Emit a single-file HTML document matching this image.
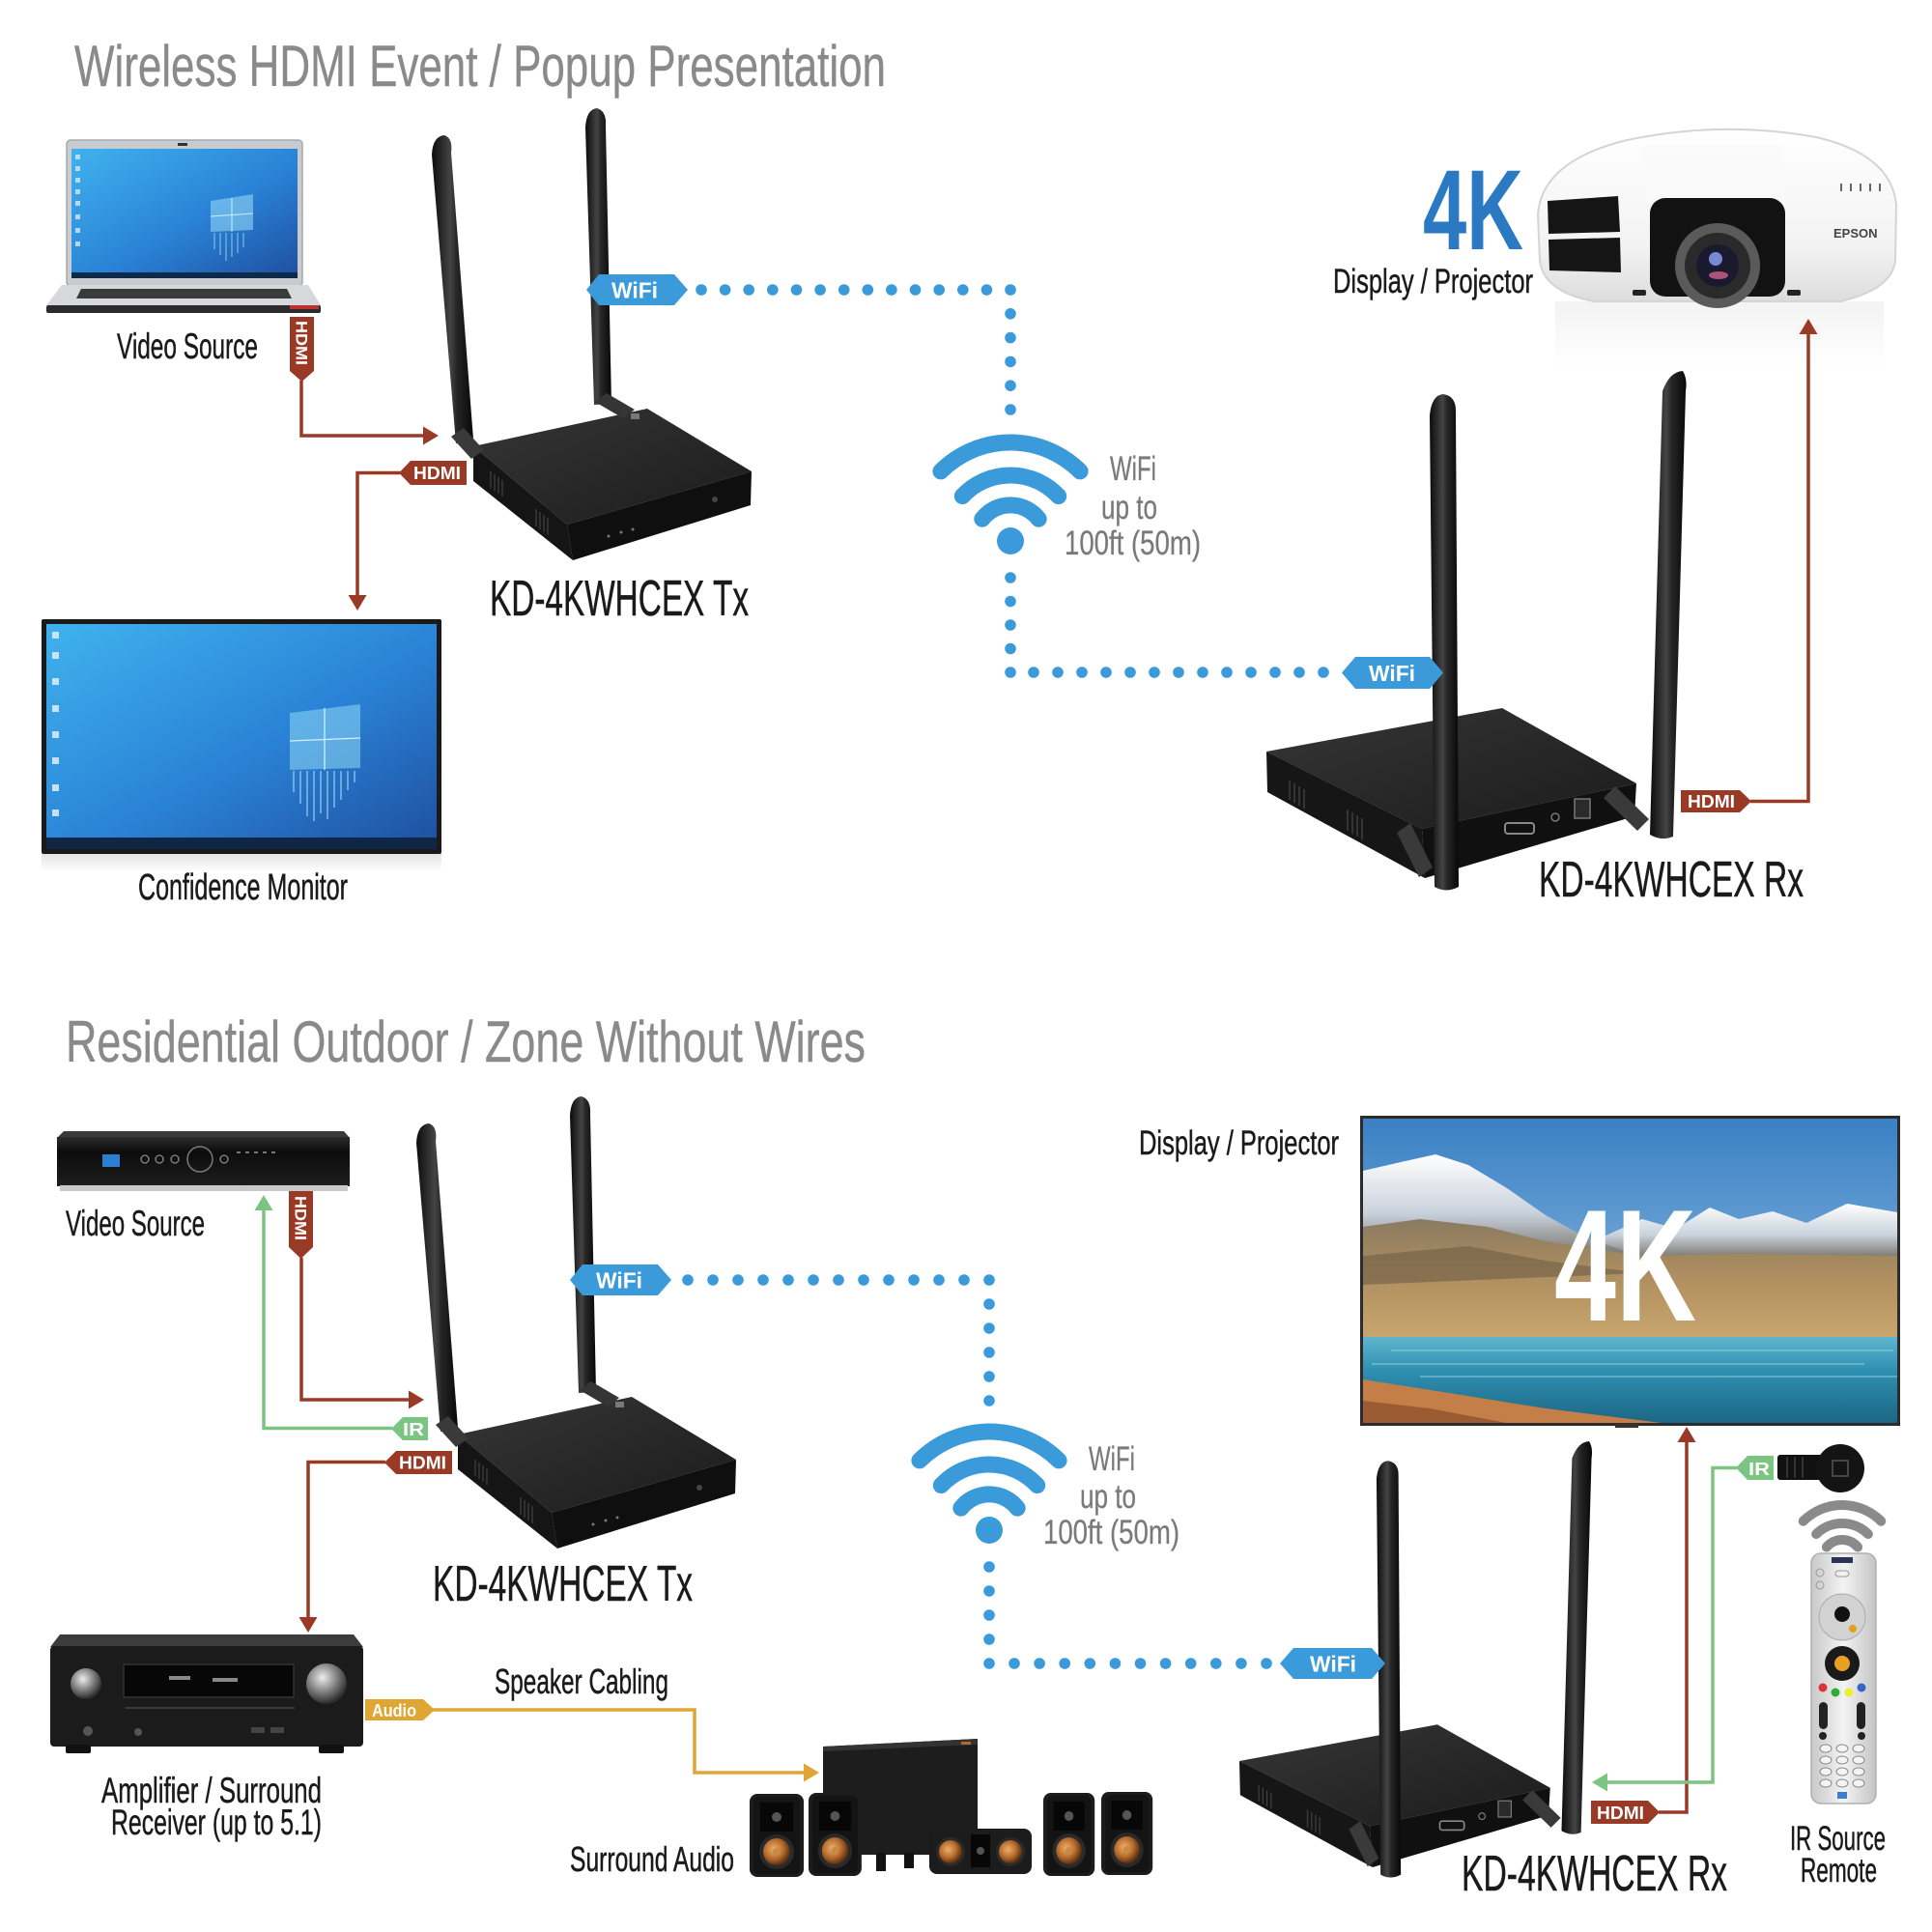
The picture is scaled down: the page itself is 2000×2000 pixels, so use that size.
<!DOCTYPE html>
<html><head><meta charset="utf-8"><style>
html,body{margin:0;padding:0;background:#fff;}
svg{display:block;}
.lbl{font-family:"Liberation Sans Narrow","Liberation Sans",sans-serif;fill:#1a1a1a;stroke:#1a1a1a;stroke-width:0.5;}
.ttl{font-family:"Liberation Sans Narrow","Liberation Sans",sans-serif;fill:#8a8a8a;stroke:#8a8a8a;stroke-width:0.4;}
.gry{font-family:"Liberation Sans Narrow","Liberation Sans",sans-serif;fill:#7a7a7a;stroke:#7a7a7a;stroke-width:0.3;}
.tag{font-family:"Liberation Sans",sans-serif;font-weight:bold;fill:#fff;}
</style></head><body>
<svg width="2000" height="2000" viewBox="0 0 2000 2000" xmlns="http://www.w3.org/2000/svg">
<defs>
<linearGradient id="antG" x1="0" y1="0" x2="1" y2="0"><stop offset="0" stop-color="#0c0c0c"/><stop offset=".45" stop-color="#444"/><stop offset=".6" stop-color="#262626"/><stop offset="1" stop-color="#080808"/></linearGradient>
<linearGradient id="boxTop" x1="0" y1="0" x2="1" y2="1"><stop offset="0" stop-color="#363636"/><stop offset="1" stop-color="#1b1b1b"/></linearGradient>
<linearGradient id="scr" x1="0" y1="0" x2="1" y2="1"><stop offset="0" stop-color="#3fb2ee"/><stop offset=".55" stop-color="#2a82d6"/><stop offset="1" stop-color="#1f4f9f"/></linearGradient>
<radialGradient id="copper" cx=".4" cy=".4" r=".6"><stop offset="0" stop-color="#f0b06a"/><stop offset=".6" stop-color="#b46a2c"/><stop offset="1" stop-color="#5a3010"/></radialGradient>
<radialGradient id="knob" cx=".4" cy=".35" r=".65"><stop offset="0" stop-color="#eee"/><stop offset=".5" stop-color="#8a8a8a"/><stop offset="1" stop-color="#2a2a2a"/></radialGradient>
<linearGradient id="sky" x1="0" y1="0" x2="0" y2="1"><stop offset="0" stop-color="#3a80c4"/><stop offset="1" stop-color="#a9cde9"/></linearGradient>
<linearGradient id="lake" x1="0" y1="0" x2="0" y2="1"><stop offset="0" stop-color="#5fb6cf"/><stop offset=".4" stop-color="#2f8fb0"/><stop offset="1" stop-color="#1c6685"/></linearGradient>
<linearGradient id="land" x1="0" y1="0" x2="0" y2="1"><stop offset="0" stop-color="#8a7a60"/><stop offset=".5" stop-color="#b09060"/><stop offset="1" stop-color="#c9a66e"/></linearGradient>
<linearGradient id="snow" x1="0" y1="0" x2="0" y2="1"><stop offset="0" stop-color="#ffffff"/><stop offset=".55" stop-color="#c9d2dc"/><stop offset="1" stop-color="#6f6a60"/></linearGradient>
<linearGradient id="proj" x1="0" y1="0" x2="0" y2="1"><stop offset="0" stop-color="#ffffff"/><stop offset=".7" stop-color="#f2f2f2"/><stop offset="1" stop-color="#dcdcdc"/></linearGradient>
<linearGradient id="refl" x1="0" y1="0" x2="0" y2="1"><stop offset="0" stop-color="#e4e4e4"/><stop offset="1" stop-color="#ffffff"/></linearGradient>
<linearGradient id="remG" x1="0" y1="0" x2="1" y2="0"><stop offset="0" stop-color="#c8c8c8"/><stop offset=".5" stop-color="#f3f3f3"/><stop offset="1" stop-color="#c4c4c4"/></linearGradient>
<linearGradient id="stb" x1="0" y1="0" x2="0" y2="1"><stop offset="0" stop-color="#2c2c2c"/><stop offset=".3" stop-color="#0c0c0c"/><stop offset="1" stop-color="#1e1e1e"/></linearGradient>

<g id="tx">
  <polygon points="490,462 670,423 778,488 587,543" fill="url(#boxTop)"/>
  <polygon points="490,462 587,543 593,580 490,498" fill="#151515"/>
  <polygon points="587,543 778,488 777,523 593,580" fill="#0f0f0f"/>
  <g stroke="#3a3a3a" stroke-width="1.5">
    <line x1="508" y1="488" x2="508" y2="505"/><line x1="512" y1="491" x2="512" y2="508"/><line x1="516" y1="494" x2="516" y2="511"/><line x1="520" y1="497" x2="520" y2="514"/>
    <line x1="555" y1="527" x2="555" y2="545"/><line x1="559" y1="530" x2="559" y2="548"/><line x1="563" y1="533" x2="563" y2="551"/><line x1="567" y1="536" x2="567" y2="554"/>
  </g>
  <circle cx="630" cy="555" r="1.5" fill="#777"/><circle cx="643" cy="551" r="1.5" fill="#777"/><circle cx="655" cy="548" r="1.5" fill="#777"/>
  <circle cx="740" cy="517" r="3" fill="#444"/>
  <path d="M447,160 Q448,141 460,140 Q469,143 467,158 L490,455 L472,459 Z" fill="url(#antG)"/>
  <polygon points="467,452 480,443 501,466 488,475" fill="#3a3a3a"/>
  <path d="M606,132 Q607,113 618,112 Q628,115 627,130 L633,418 L615,419 Z" fill="url(#antG)"/>
  <polygon points="616,416 628,407 657,424 645,433" fill="#353535"/>
  <rect x="653" y="428" width="9" height="6" fill="#aaa" opacity=".6"/>
</g>

<g id="rx">
  <polygon points="1311,778 1555,733 1694,811 1472,858" fill="url(#boxTop)"/>
  <polygon points="1311,778 1472,858 1475,909 1312,820" fill="#161616"/>
  <polygon points="1472,858 1694,811 1692,845 1475,909" fill="#101010"/>
  <g stroke="#3c3c3c" stroke-width="1.6">
    <line x1="1335" y1="808" x2="1335" y2="828"/><line x1="1340" y1="811" x2="1340" y2="831"/><line x1="1345" y1="814" x2="1345" y2="834"/><line x1="1350" y1="817" x2="1350" y2="837"/>
    <line x1="1395" y1="838" x2="1395" y2="860"/><line x1="1400" y1="841" x2="1400" y2="863"/><line x1="1405" y1="844" x2="1405" y2="866"/><line x1="1410" y1="847" x2="1410" y2="869"/>
  </g>
  <rect x="1558" y="852" width="30" height="11" rx="3" fill="none" stroke="#888" stroke-width="2"/>
  <circle cx="1610" cy="846" r="4" fill="none" stroke="#777" stroke-width="1.5"/>
  <rect x="1630" y="827" width="16" height="20" fill="#2a2a2a" stroke="#777" stroke-width="1.5"/>
  <polygon points="1446,862 1460,852 1483,898 1469,908" fill="#3a3a3a"/>
  <polygon points="1660,826 1672,814 1707,848 1695,860" fill="#3a3a3a"/>
  <path d="M1480,430 Q1482,409 1494,408 Q1507,410 1507,425 L1510,918 Q1497,925 1485,918 Z" fill="url(#antG)"/>
  <path d="M1721,405 Q1728,385 1742,384 Q1747,392 1745,405 L1732,866 Q1720,871 1708,864 Z" fill="url(#antG)"/>
</g>

<g id="spk">
  <rect x="0" y="0" width="56" height="86" rx="8" fill="#1c1c1c"/>
  <rect x="4" y="3" width="48" height="80" rx="6" fill="#141414"/>
  <rect x="11" y="9" width="34" height="30" fill="#070707"/>
  <circle cx="28" cy="24" r="5" fill="#555"/>
  <circle cx="28" cy="60" r="18" fill="#2a2a2a"/>
  <circle cx="28" cy="60" r="14" fill="url(#copper)"/>
  <circle cx="28" cy="60" r="4" fill="#c98a46"/>
</g>
</defs>

<rect width="2000" height="2000" fill="#fff"/>

<!-- ===== TITLES ===== -->
<text class="ttl" x="77" y="89" font-size="60" textLength="840" lengthAdjust="spacingAndGlyphs">Wireless HDMI Event / Popup Presentation</text>
<text class="ttl" x="68" y="1099" font-size="60" textLength="828" lengthAdjust="spacingAndGlyphs">Residential Outdoor / Zone Without Wires</text>

<!-- ===== TOP: LAPTOP ===== -->
<rect x="69" y="145" width="244" height="151" rx="4" fill="#c8cbd0" stroke="#a5a8ad" stroke-width="1.5"/>
<rect x="74" y="154" width="234" height="134" fill="url(#scr)"/>
<rect x="74" y="282" width="234" height="6" fill="#0e2a4a"/>
<g fill="#d8e8f8" opacity=".8"><rect x="78" y="160" width="5" height="5"/><rect x="78" y="172" width="5" height="5"/><rect x="78" y="184" width="5" height="5"/><rect x="78" y="196" width="5" height="5"/><rect x="78" y="208" width="5" height="5"/><rect x="78" y="222" width="5" height="5"/><rect x="78" y="236" width="5" height="5"/><rect x="78" y="250" width="5" height="5"/></g>
<polygon points="218,208 262,201 262,238 218,240" fill="#8fd6f5" opacity=".6"/>
<line x1="240" y1="205" x2="240" y2="240" stroke="#cdefff" stroke-width="1"/><line x1="218" y1="224" x2="262" y2="221" stroke="#cdefff" stroke-width="1"/>
<g stroke="#9fdcf7" stroke-width="1.2" opacity=".7"><line x1="222" y1="241" x2="222" y2="258"/><line x1="228" y1="241" x2="228" y2="264"/><line x1="234" y1="241" x2="234" y2="270"/><line x1="240" y1="241" x2="240" y2="266"/><line x1="246" y1="241" x2="246" y2="262"/><line x1="252" y1="241" x2="252" y2="256"/></g>
<rect x="184" y="148" width="10" height="3" fill="#333"/>
<polygon points="64,295 319,295 332,316 48,316" fill="#d6d8dc"/>
<polygon points="84,299 297,299 302,309 79,309" fill="#3a3a3a"/>
<rect x="48" y="316" width="284" height="8" rx="2" fill="#2b2b2b"/>
<rect x="300" y="316" width="30" height="4" fill="#b33"/>

<text class="lbl" x="121" y="371" font-size="37" textLength="146" lengthAdjust="spacingAndGlyphs">Video Source</text>

<!-- ===== TOP: CONFIDENCE MONITOR ===== -->
<rect x="43" y="884" width="414" height="18" fill="url(#refl)"/>
<rect x="43" y="641" width="414" height="243" rx="2" fill="#1a1a1a"/>
<rect x="48" y="646" width="404" height="233" fill="url(#scr)"/>
<rect x="48" y="867" width="404" height="12" fill="#0f2744"/>
<g fill="#e0eefa" opacity=".85"><rect x="54" y="654" width="7" height="7"/><rect x="54" y="675" width="7" height="7"/><rect x="54" y="702" width="7" height="7"/><rect x="54" y="730" width="7" height="7"/><rect x="54" y="757" width="7" height="7"/><rect x="54" y="784" width="7" height="7"/><rect x="54" y="812" width="7" height="7"/><rect x="54" y="838" width="7" height="7"/></g>
<polygon points="300,738 373,729 373,795 300,797" fill="#8ed8f6" opacity=".55"/>
<line x1="336" y1="733" x2="336" y2="797" stroke="#d0f0ff" stroke-width="1.3"/><line x1="300" y1="767" x2="373" y2="764" stroke="#d0f0ff" stroke-width="1.3"/>
<g stroke="#a6e0f8" stroke-width="1.5" opacity=".7"><line x1="304" y1="798" x2="304" y2="820"/><line x1="311" y1="798" x2="311" y2="832"/><line x1="318" y1="798" x2="318" y2="845"/><line x1="325" y1="798" x2="325" y2="850"/><line x1="332" y1="798" x2="332" y2="842"/><line x1="339" y1="798" x2="339" y2="848"/><line x1="346" y1="798" x2="346" y2="836"/><line x1="353" y1="798" x2="353" y2="828"/><line x1="360" y1="798" x2="360" y2="818"/><line x1="367" y1="798" x2="367" y2="810"/></g>
<text class="lbl" x="143" y="931" font-size="38" textLength="217" lengthAdjust="spacingAndGlyphs">Confidence Monitor</text>

<!-- ===== TOP TX ===== -->
<use href="#tx"/>
<text class="lbl" x="507" y="637" font-size="52" textLength="268" lengthAdjust="spacingAndGlyphs">KD-4KWHCEX Tx</text>

<!-- ===== TOP PROJECTOR ===== -->
<rect x="1610" y="312" width="340" height="70" fill="url(#refl)" opacity=".45"/>
<path d="M1592,222 Q1596,168 1680,146 Q1780,124 1880,142 Q1958,160 1963,212 L1962,270 Q1958,300 1905,312 L1650,312 Q1598,302 1594,270 Z" fill="url(#proj)" stroke="#d4d4d4" stroke-width="2"/>
<path d="M1700,150 L1845,150 L1850,210 L1700,210 Z" fill="#fafafa" opacity=".7"/>
<polygon points="1602,208 1675,203 1677,240 1603,242" fill="#151515"/>
<polygon points="1603,248 1677,246 1678,282 1604,280" fill="#151515"/>
<rect x="1708" y="205" width="140" height="102" rx="16" fill="#121212"/>
<circle cx="1778" cy="275" r="44" fill="#5a5a5a"/>
<circle cx="1778" cy="275" r="34" fill="#2a2a2a"/>
<circle cx="1778" cy="275" r="22" fill="#1a1a2e"/>
<circle cx="1776" cy="268" r="7" fill="#8fa8ff" opacity=".8"/>
<ellipse cx="1779" cy="285" rx="10" ry="4" fill="#d06090" opacity=".8"/>
<text x="1898" y="246" font-family="Liberation Sans,sans-serif" font-weight="bold" font-size="13" fill="#444">EPSON</text>
<g fill="#666"><rect x="1905" y="190" width="2" height="8"/><rect x="1915" y="190" width="2" height="8"/><rect x="1925" y="190" width="2" height="8"/><rect x="1935" y="190" width="2" height="8"/><rect x="1945" y="190" width="2" height="8"/></g>
<rect x="1690" y="300" width="14" height="6" rx="2" fill="#222"/><rect x="1850" y="300" width="14" height="6" rx="2" fill="#222"/>
<text x="1473" y="258" font-family="Liberation Sans Narrow,Liberation Sans,sans-serif" font-weight="bold" font-size="118" fill="#2b79c2" textLength="104" lengthAdjust="spacingAndGlyphs">4K</text>
<text class="lbl" x="1380" y="303" font-size="35" textLength="207" lengthAdjust="spacingAndGlyphs">Display / Projector</text>

<!-- top connectors -->
<g fill="none" stroke="#993a27" stroke-width="3.5">
  <polyline points="312,394 312,451 440,451"/>
  <polyline points="414,489.5 370,489.5 370,618"/>
  <polyline points="1812,829.5 1872,829.5 1872,344"/>
</g>
<g fill="#993a27">
  <polygon points="454,451 438,441.5 438,460.5"/>
  <polygon points="370,632 360.5,616 379.5,616"/>
  <polygon points="1872,330 1862.5,346 1881.5,346"/>
  <polygon points="300,328 325,328 325,384 312.5,395 300,384"/>
  <polygon points="413,489.5 425,477 483,477 483,502 425,502"/>
  <polygon points="1740,818 1801,818 1813,829.5 1801,841 1740,841"/>
</g>
<text class="tag" x="0" y="0" font-size="17" textLength="46" lengthAdjust="spacingAndGlyphs" transform="translate(306.5,332) rotate(90)">HDMI</text>
<text class="tag" x="428" y="496" font-size="18" textLength="49" lengthAdjust="spacingAndGlyphs">HDMI</text>
<text class="tag" x="1747" y="836" font-size="18" textLength="49" lengthAdjust="spacingAndGlyphs">HDMI</text>

<!-- top wifi dotted -->
<g fill="#3b9ad9">
  <circle cx="726" cy="300" r="5.8"/><circle cx="750.6" cy="300" r="5.8"/><circle cx="775.2" cy="300" r="5.8"/><circle cx="799.8" cy="300" r="5.8"/><circle cx="824.5" cy="300" r="5.8"/><circle cx="849.1" cy="300" r="5.8"/><circle cx="873.7" cy="300" r="5.8"/><circle cx="898.3" cy="300" r="5.8"/><circle cx="922.9" cy="300" r="5.8"/><circle cx="947.5" cy="300" r="5.8"/><circle cx="972.2" cy="300" r="5.8"/><circle cx="996.8" cy="300" r="5.8"/><circle cx="1021.4" cy="300" r="5.8"/><circle cx="1046" cy="300" r="5.8"/>
  <circle cx="1046" cy="324.8" r="5.8"/><circle cx="1046" cy="349.6" r="5.8"/><circle cx="1046" cy="374.4" r="5.8"/><circle cx="1046" cy="399.2" r="5.8"/><circle cx="1046" cy="424" r="5.8"/>
  <circle cx="1046" cy="598" r="5.8"/><circle cx="1046" cy="622.5" r="5.8"/><circle cx="1046" cy="647" r="5.8"/><circle cx="1046" cy="671.5" r="5.8"/><circle cx="1046" cy="696" r="5.8"/>
  <circle cx="1070" cy="696" r="5.8"/><circle cx="1095" cy="696" r="5.8"/><circle cx="1120" cy="696" r="5.8"/><circle cx="1145" cy="696" r="5.8"/><circle cx="1170" cy="696" r="5.8"/><circle cx="1195" cy="696" r="5.8"/><circle cx="1220" cy="696" r="5.8"/><circle cx="1245" cy="696" r="5.8"/><circle cx="1270" cy="696" r="5.8"/><circle cx="1295" cy="696" r="5.8"/><circle cx="1320" cy="696" r="5.8"/><circle cx="1345" cy="696" r="5.8"/><circle cx="1370" cy="696" r="5.8"/>
</g>
<g fill="none" stroke="#3b9ad9" stroke-width="17" stroke-linecap="round">
  <path d="M973.9,487.9 A102,102 0 0 1 1118.1,487.9"/>
  <path d="M996.3,513.6 A68,68 0 0 1 1095.7,513.6"/>
  <path d="M1016.8,537.2 A37,37 0 0 1 1075.2,537.2"/>
</g>
<circle cx="1046" cy="560" r="14" fill="#3b9ad9"/>
<text class="gry" x="1149" y="497" font-size="35" textLength="48" lengthAdjust="spacingAndGlyphs">WiFi</text>
<text class="gry" x="1140" y="537" font-size="35" textLength="58" lengthAdjust="spacingAndGlyphs">up to</text>
<text class="gry" x="1102" y="574" font-size="35" textLength="141" lengthAdjust="spacingAndGlyphs">100ft (50m)</text>

<!-- top wifi tags -->
<polygon points="607,300 620,284 698,284 712,300 698,316 620,316" fill="#3b9ad9"/>
<text class="tag" x="633" y="308.5" font-size="23" textLength="48" lengthAdjust="spacingAndGlyphs">WiFi</text>

<!-- ===== TOP RX ===== -->
<use href="#rx"/>
<polygon points="1389,696.5 1403,680 1480,680 1494,696.5 1480,713 1403,713" fill="#3b9ad9"/>
<text class="tag" x="1417" y="705" font-size="23" textLength="48" lengthAdjust="spacingAndGlyphs">WiFi</text>
<text class="lbl" x="1593" y="928" font-size="52" textLength="274" lengthAdjust="spacingAndGlyphs">KD-4KWHCEX Rx</text>

<!-- ===== BOTTOM: SET TOP BOX ===== -->
<polygon points="66,1171 356,1171 362,1178 59,1178" fill="#3a3a3a"/>
<rect x="59" y="1177" width="303" height="51" fill="url(#stb)"/>
<rect x="62" y="1227" width="298" height="6" fill="#c9c9c9"/>
<rect x="106" y="1195" width="18" height="13" fill="#2a7fd0"/>
<circle cx="207" cy="1200" r="13" fill="none" stroke="#7a7a7a" stroke-width="1.5"/>
<g fill="none" stroke="#888" stroke-width="1.3"><circle cx="150" cy="1200" r="4"/><circle cx="165" cy="1200" r="4"/><circle cx="181" cy="1200" r="4"/><circle cx="232" cy="1200" r="4"/></g>
<g fill="#777"><rect x="245" y="1192" width="4" height="2"/><rect x="254" y="1192" width="4" height="2"/><rect x="263" y="1192" width="4" height="2"/><rect x="272" y="1192" width="4" height="2"/><rect x="281" y="1192" width="4" height="2"/></g>
<text class="lbl" x="68" y="1279" font-size="37" textLength="144" lengthAdjust="spacingAndGlyphs">Video Source</text>

<!-- ===== BOTTOM TX ===== -->
<use href="#tx" transform="translate(-16,1023)"/>
<text class="lbl" x="448" y="1657" font-size="52" textLength="269" lengthAdjust="spacingAndGlyphs">KD-4KWHCEX Tx</text>

<!-- bottom left connectors -->
<g fill="none" stroke="#993a27" stroke-width="3.5">
  <polyline points="312,1302 312,1449 424,1449"/>
  <polyline points="399,1513.5 319,1513.5 319,1675"/>
</g>
<g fill="none" stroke="#7cc481" stroke-width="3.5">
  <polyline points="406,1478.5 273,1478.5 273,1252"/>
</g>
<g fill="#993a27">
  <polygon points="439,1449 423,1439.5 423,1458.5"/>
  <polygon points="319,1690 309.5,1674 328.5,1674"/>
  <polygon points="299,1233 324,1233 324,1291 311.5,1303 299,1291"/>
  <polygon points="398,1514 410,1502 468,1502 468,1526 410,1526"/>
</g>
<polygon points="273,1237 263.5,1253 282.5,1253" fill="#7cc481"/>
<polygon points="405,1479 417,1467 443,1467 443,1491 417,1491" fill="#7cc481"/>
<text class="tag" x="0" y="0" font-size="17" textLength="46" lengthAdjust="spacingAndGlyphs" transform="translate(305.5,1238) rotate(90)">HDMI</text>
<text class="tag" x="417" y="1486" font-size="18" textLength="22" lengthAdjust="spacingAndGlyphs">IR</text>
<text class="tag" x="413" y="1520.5" font-size="18" textLength="49" lengthAdjust="spacingAndGlyphs">HDMI</text>

<!-- bottom wifi dotted -->
<g fill="#3b9ad9">
  <circle cx="712" cy="1325" r="5.8"/><circle cx="738" cy="1325" r="5.8"/><circle cx="764" cy="1325" r="5.8"/><circle cx="790" cy="1325" r="5.8"/><circle cx="816" cy="1325" r="5.8"/><circle cx="842" cy="1325" r="5.8"/><circle cx="868" cy="1325" r="5.8"/><circle cx="894" cy="1325" r="5.8"/><circle cx="920" cy="1325" r="5.8"/><circle cx="946" cy="1325" r="5.8"/><circle cx="972" cy="1325" r="5.8"/><circle cx="998" cy="1325" r="5.8"/><circle cx="1024" cy="1325" r="5.8"/>
  <circle cx="1024" cy="1350" r="5.8"/><circle cx="1024" cy="1375" r="5.8"/><circle cx="1024" cy="1400" r="5.8"/><circle cx="1024" cy="1425" r="5.8"/><circle cx="1024" cy="1450" r="5.8"/>
  <circle cx="1024" cy="1622" r="5.8"/><circle cx="1024" cy="1647" r="5.8"/><circle cx="1024" cy="1672" r="5.8"/><circle cx="1024" cy="1697" r="5.8"/><circle cx="1024" cy="1722" r="5.8"/>
  <circle cx="1050" cy="1722" r="5.8"/><circle cx="1076.1" cy="1722" r="5.8"/><circle cx="1102.2" cy="1722" r="5.8"/><circle cx="1128.3" cy="1722" r="5.8"/><circle cx="1154.4" cy="1722" r="5.8"/><circle cx="1180.5" cy="1722" r="5.8"/><circle cx="1206.6" cy="1722" r="5.8"/><circle cx="1232.7" cy="1722" r="5.8"/><circle cx="1258.8" cy="1722" r="5.8"/><circle cx="1284.9" cy="1722" r="5.8"/><circle cx="1311" cy="1722" r="5.8"/>
</g>
<g fill="none" stroke="#3b9ad9" stroke-width="17" stroke-linecap="round">
  <path d="M951.9,1511.9 A102,102 0 0 1 1096.1,1511.9"/>
  <path d="M974.3,1537.6 A68,68 0 0 1 1073.7,1537.6"/>
  <path d="M994.8,1561.2 A37,37 0 0 1 1053.2,1561.2"/>
</g>
<circle cx="1024" cy="1584" r="14" fill="#3b9ad9"/>
<text class="gry" x="1127" y="1522" font-size="35" textLength="48" lengthAdjust="spacingAndGlyphs">WiFi</text>
<text class="gry" x="1118" y="1561" font-size="35" textLength="58" lengthAdjust="spacingAndGlyphs">up to</text>
<text class="gry" x="1080" y="1598" font-size="35" textLength="141" lengthAdjust="spacingAndGlyphs">100ft (50m)</text>

<polygon points="590,1325 603,1309 681,1309 695,1325 681,1341 603,1341" fill="#3b9ad9"/>
<text class="tag" x="617" y="1333.5" font-size="23" textLength="48" lengthAdjust="spacingAndGlyphs">WiFi</text>

<!-- ===== AMPLIFIER ===== -->
<polygon points="62,1692 366,1692 376,1705 52,1705" fill="#3c3c3c"/>
<rect x="52" y="1704" width="324" height="104" rx="4" fill="#1b1b1b"/>
<rect x="128" y="1723" width="176" height="34" fill="#070707" stroke="#333" stroke-width="1.5"/>
<g fill="#888"><rect x="175" y="1735" width="22" height="4"/><rect x="220" y="1737" width="26" height="4"/></g>
<line x1="130" y1="1768" x2="305" y2="1768" stroke="#444" stroke-width="1.5"/>
<circle cx="89" cy="1743" r="16" fill="url(#knob)"/>
<circle cx="338" cy="1743" r="21" fill="url(#knob)"/>
<circle cx="91" cy="1792" r="5" fill="#555"/>
<circle cx="143" cy="1793" r="4" fill="#555"/>
<rect x="260" y="1788" width="14" height="6" fill="#444"/><rect x="280" y="1788" width="14" height="6" fill="#444"/>
<rect x="68" y="1806" width="26" height="9" rx="2" fill="#111"/><rect x="330" y="1806" width="26" height="9" rx="2" fill="#111"/>
<text class="lbl" x="105" y="1866" font-size="37" textLength="228" lengthAdjust="spacingAndGlyphs">Amplifier / Surround</text>
<text class="lbl" x="115" y="1899" font-size="37" textLength="218" lengthAdjust="spacingAndGlyphs">Receiver (up to 5.1)</text>

<!-- audio connector -->
<polyline points="448,1770 719,1770 719,1835 832,1835" fill="none" stroke="#e0a633" stroke-width="3.5"/>
<polygon points="848,1835 832,1825.5 832,1844.5" fill="#e0a633"/>
<polygon points="378,1759 438,1759 450,1770 438,1781 378,1781" fill="#e0a633"/>
<text class="tag" x="385" y="1777" font-size="18" textLength="46" lengthAdjust="spacingAndGlyphs">Audio</text>
<text class="lbl" x="512" y="1753" font-size="36" textLength="180" lengthAdjust="spacingAndGlyphs">Speaker Cabling</text>

<!-- ===== SPEAKERS ===== -->
<polygon points="852,1808 1012,1800 1012,1920 852,1920" fill="#1d1d1d"/>
<polygon points="852,1808 1012,1800 1012,1806 852,1813" fill="#333"/>
<rect x="995" y="1803" width="10" height="3" fill="#b06a2a"/>
<rect x="907" y="1918" width="10" height="19" fill="#111"/><rect x="936" y="1918" width="10" height="16" fill="#111"/>
<use href="#spk" transform="translate(776,1857)"/>
<use href="#spk" transform="translate(837,1856) scale(0.98,1)"/>
<rect x="962" y="1893" width="106" height="47" rx="8" fill="#1c1c1c"/>
<rect x="1005" y="1899" width="20" height="34" fill="#070707"/>
<circle cx="1015" cy="1916" r="4" fill="#555"/>
<circle cx="984" cy="1917" r="15" fill="#2a2a2a"/><circle cx="984" cy="1917" r="12" fill="url(#copper)"/>
<circle cx="1046" cy="1917" r="15" fill="#2a2a2a"/><circle cx="1046" cy="1917" r="12" fill="url(#copper)"/>
<use href="#spk" transform="translate(1080,1856) scale(0.95,1)"/>
<use href="#spk" transform="translate(1140,1855) scale(0.95,1)"/>
<text class="lbl" x="590" y="1937" font-size="36" textLength="170" lengthAdjust="spacingAndGlyphs">Surround Audio</text>

<!-- ===== TV ===== -->
<rect x="1408" y="1155" width="559" height="321" fill="#2c2c2c"/>
<rect x="1411" y="1158" width="553" height="315" fill="url(#sky)"/>
<polygon points="1620,1295 1660,1280 1700,1262 1735,1272 1770,1250 1800,1262 1835,1254 1870,1266 1912,1246 1964,1255 1964,1305 1620,1305" fill="url(#snow)"/>
<polygon points="1411,1212 1450,1203 1486,1195 1520,1206 1560,1230 1600,1258 1640,1280 1690,1298 1411,1305" fill="url(#snow)"/>
<polygon points="1411,1270 1470,1262 1540,1270 1600,1285 1700,1300 1800,1298 1964,1300 1964,1386 1411,1386" fill="url(#land)"/>
<polygon points="1411,1300 1520,1290 1600,1305 1700,1318 1411,1330" fill="#6e5e46" opacity=".6"/>
<rect x="1411" y="1384" width="553" height="89" fill="url(#lake)"/>
<g stroke="#8fd0e0" stroke-width="2" opacity=".5"><line x1="1440" y1="1398" x2="1960" y2="1398"/><line x1="1420" y1="1412" x2="1930" y2="1412"/><line x1="1470" y1="1425" x2="1964" y2="1425"/></g>
<polygon points="1411,1428 1500,1442 1600,1458 1720,1473 1411,1473" fill="#c47f48"/>
<polygon points="1411,1450 1480,1458 1560,1473 1411,1473" fill="#9a5a32"/>
<rect x="1672" y="1474" width="24" height="4" fill="#333"/>
<text x="1609" y="1367" font-family="Liberation Sans Narrow,Liberation Sans,sans-serif" font-weight="bold" font-size="165" fill="#ffffff" textLength="147" lengthAdjust="spacingAndGlyphs">4K</text>
<text class="lbl" x="1179" y="1195" font-size="35" textLength="207" lengthAdjust="spacingAndGlyphs">Display / Projector</text>

<!-- ===== BOTTOM RX ===== -->
<use href="#rx" transform="matrix(0.84,0,0,0.84,181.76,1169.5)"/>
<polygon points="1325,1722 1339,1706 1420,1706 1434,1722 1420,1738 1339,1738" fill="#3b9ad9"/>
<text class="tag" x="1356" y="1730.5" font-size="23" textLength="48" lengthAdjust="spacingAndGlyphs">WiFi</text>
<text class="lbl" x="1513" y="1957" font-size="52" textLength="275" lengthAdjust="spacingAndGlyphs">KD-4KWHCEX Rx</text>

<!-- bottom right connectors -->
<polyline points="1717,1876 1746,1876 1746,1492" fill="none" stroke="#993a27" stroke-width="3.5"/>
<polygon points="1746,1477 1736.5,1493 1755.5,1493" fill="#993a27"/>
<polygon points="1647,1864 1706,1864 1718,1876 1706,1888 1647,1888" fill="#993a27"/>
<text class="tag" x="1653" y="1883" font-size="18" textLength="49" lengthAdjust="spacingAndGlyphs">HDMI</text>
<polyline points="1798,1519.5 1773,1519.5 1773,1845 1663,1845" fill="none" stroke="#7cc481" stroke-width="3.5"/>
<polygon points="1648,1845 1664,1835.5 1664,1854.5" fill="#7cc481"/>
<polygon points="1797,1519.5 1809,1507 1836,1507 1836,1532 1809,1532" fill="#7cc481"/>
<text class="tag" x="1810" y="1527" font-size="18" textLength="22" lengthAdjust="spacingAndGlyphs">IR</text>

<!-- IR emitter -->
<rect x="1840" y="1506" width="52" height="26" rx="3" fill="#111"/>
<g stroke="#333" stroke-width="2"><line x1="1850" y1="1508" x2="1850" y2="1530"/><line x1="1858" y1="1508" x2="1858" y2="1530"/><line x1="1866" y1="1508" x2="1866" y2="1530"/></g>
<circle cx="1905" cy="1520" r="25" fill="#141414"/>
<rect x="1897" y="1512" width="16" height="16" fill="none" stroke="#555" stroke-width="1.5"/>

<!-- gray IR waves -->
<g fill="none" stroke="#8a8a8a" stroke-width="10" stroke-linecap="round">
  <path d="M1866.7,1574.7 A57,57 0 0 1 1947.3,1574.7"/>
  <path d="M1880.1,1588.1 A38,38 0 0 1 1933.9,1588.1"/>
  <path d="M1890.9,1601.5 A21,21 0 0 1 1923.1,1601.5"/>
</g>

<!-- remote -->
<rect x="1875" y="1608" width="67" height="259" rx="10" fill="url(#remG)" stroke="#b0b0b0" stroke-width="1.5"/>
<rect x="1896" y="1612" width="22" height="6" fill="#2a3555"/>
<circle cx="1884" cy="1628" r="4" fill="none" stroke="#999"/><circle cx="1884" cy="1641" r="4" fill="none" stroke="#999"/>
<rect x="1900" y="1626" width="14" height="6" rx="3" fill="none" stroke="#999"/>
<circle cx="1907" cy="1674" r="24" fill="#d2d2d2" stroke="#aaa"/>
<circle cx="1907" cy="1671" r="8" fill="#111"/>
<circle cx="1918" cy="1686" r="4" fill="#e0a020"/>
<circle cx="1907" cy="1722" r="18" fill="#1a1a1a"/>
<circle cx="1907" cy="1722" r="8" fill="#e8a020"/>
<circle cx="1887" cy="1747" r="4.5" fill="#d33"/><circle cx="1900" cy="1752" r="4.5" fill="#3a3"/><circle cx="1914" cy="1752" r="4.5" fill="#ee3"/><circle cx="1927" cy="1747" r="4.5" fill="#36c"/>
<rect x="1883" y="1762" width="9" height="28" rx="4.5" fill="#222"/><rect x="1922" y="1762" width="9" height="28" rx="4.5" fill="#222"/>
<circle cx="1887" cy="1797" r="4" fill="#222"/><circle cx="1927" cy="1797" r="4" fill="#222"/>
<g fill="#f4f4f4" stroke="#888" stroke-width="1">
  <ellipse cx="1890" cy="1810" rx="6" ry="4"/><ellipse cx="1907" cy="1810" rx="6" ry="4"/><ellipse cx="1924" cy="1810" rx="6" ry="4"/>
  <ellipse cx="1890" cy="1822" rx="6" ry="4"/><ellipse cx="1907" cy="1822" rx="6" ry="4"/><ellipse cx="1924" cy="1822" rx="6" ry="4"/>
  <ellipse cx="1890" cy="1834" rx="6" ry="4"/><ellipse cx="1907" cy="1834" rx="6" ry="4"/><ellipse cx="1924" cy="1834" rx="6" ry="4"/>
  <ellipse cx="1890" cy="1846" rx="6" ry="4"/><ellipse cx="1907" cy="1846" rx="6" ry="4"/><ellipse cx="1924" cy="1846" rx="6" ry="4"/>
</g>
<rect x="1902" y="1855" width="10" height="7" fill="#3a7fd0"/>
<text class="lbl" x="1853" y="1915" font-size="35" textLength="99" lengthAdjust="spacingAndGlyphs">IR Source</text>
<text class="lbl" x="1864" y="1948" font-size="35" textLength="79" lengthAdjust="spacingAndGlyphs">Remote</text>
</svg>
</body></html>
